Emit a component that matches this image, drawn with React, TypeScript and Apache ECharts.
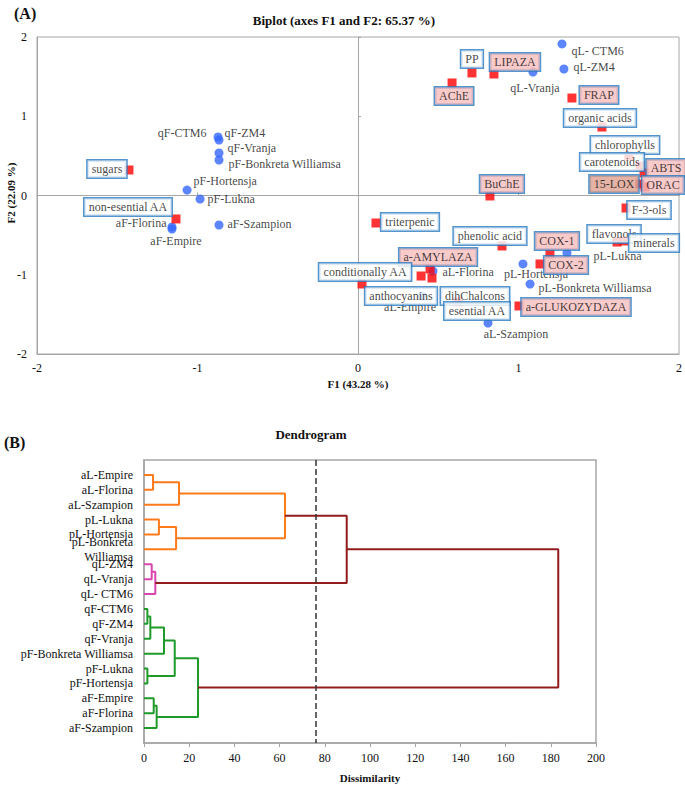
import React, { useEffect, useRef } from "react";
import * as echarts from "echarts";

// ---------- Biplot data ----------
const obsNames = [
  "qL- CTM6", "qL-ZM4", "qL-Vranja",
  "qF-CTM6", "qF-ZM4", "qF-Vranja",
  "pF-Bonkreta Williamsa", "pF-Hortensja", "pF-Lukna",
  "aF-Florina", "aF-Empire", "aF-Szampion",
  "aL-Florina", "aL-Empire", "aL-Szampion",
  "pL-Hortensja", "pL-Bonkreta Williamsa", "pL-Lukna",
];
const obsX = [1.271, 1.283, 1.09, -0.872, -0.866, -0.866, -0.866, -1.065, -0.984, -1.159, -1.159, -0.866, 0.467, 0.399, 0.81, 1.028, 1.072, 1.302];
const obsY = [1.912, 1.596, 1.558, 0.738, 0.7, 0.536, 0.448, 0.069, -0.044, -0.397, -0.423, -0.372, -0.953, -1.268, -1.609, -0.864, -1.117, -0.726];

const varNames = [
  "PP", "LIPAZA", "AChE", "FRAP", "organic acids", "chlorophylls", "carotenoids",
  "ABTS", "15-LOX", "ORAC", "BuChE", "F-3-ols", "flavonols", "minerals",
  "COX-1", "COX-2", "phenolic acid", "triterpenic", "a-AMYLAZA", "conditionally AA",
  "anthocyanins", "dihChalcons", "esential AA", "a-GLUKOZYDAZA", "sugars", "non-esential AA",
];
const varX = [0.71, 0.847, 0.586, 1.333, 1.52, 1.688, 1.757, 1.782, 1.757, 1.788, 0.822, 1.67, 1.614, 1.657, 1.196, 1.134, 0.897, 0.112, 0.449, 0.393, 0.025, 0.461, 0.623, 1.003, -1.427, -1.134];
const varY = [1.546, 1.533, 1.42, 1.23, 0.864, 0.498, 0.372, 0.284, 0.145, 0.107, -0.006, -0.158, -0.587, -0.574, -0.738, -0.864, -0.637, -0.347, -0.927, -1.016, -1.117, -1.041, -1.344, -1.394, 0.322, -0.296];

// ---------- Dendrogram data ----------
const leafNames = [
  "aL-Empire", "aL-Florina", "aL-Szampion", "pL-Lukna", "pL-Hortensja", "pL-Bonkreta Williamsa",
  "qL-ZM4", "qL-Vranja", "qL- CTM6", "qF-CTM6", "qF-ZM4", "qF-Vranja",
  "pF-Bonkreta Williamsa", "pF-Lukna", "pF-Hortensja", "aF-Empire", "aF-Florina", "aF-Szampion",
];
// [child A, child B, dissimilarity]; leaves 0..17, merges 18..
const merges: [number, number, number][] = [
  [0, 1, 4.0], [18, 2, 15.5], [3, 4, 6.6], [20, 5, 14.2], [19, 21, 62.4],
  [6, 7, 3.4], [23, 8, 5.0], [22, 24, 89.7],
  [9, 10, 1.5], [26, 11, 2.8], [27, 12, 8.85], [13, 14, 1.5], [28, 29, 13.6],
  [15, 16, 4.3], [31, 17, 5.6], [30, 32, 23.9], [25, 33, 183.3],
];
const leafCluster = [0, 0, 0, 0, 0, 0, 1, 1, 1, 2, 2, 2, 2, 2, 2, 2, 2, 2];
const cutHeight = 76;

// ---------- layout / style (not data) ----------
const FONT = "Liberation Serif";
const GRAY = "#A6A6A6";
const BOX_BORDER = "#2B7BC0";
const clusterColors = ["#FF7A1A", "#D946AD", "#1F9A2A"];
const aboveCutColor = "#921C1C";

// obs label: [position, dx, dy]
const obsLabelLayout: [string, number, number][] = [
  ["right", 0, 7], ["right", 0, -2], ["bottom", 2, 0],
  ["left", -2, -4], ["right", -4, -7], ["right", -1, -5],
  ["right", 0, 4], ["right", -3, -9], ["right", -2, 0],
  ["left", 4, -4], ["bottom", 4, -4], ["right", -1, -1],
  ["right", 0, 1], ["bottom", -12, -4], ["bottom", 28, -5],
  ["bottom", 13, -5], ["right", -1, 4], ["right", 17, 3],
];
// var box center offsets relative to square
const varBoxOffset: [number, number][] = [
  [0, -14], [21, -12], [2, 13], [27, -3], [-2, -9], [-4, -11], [-28, -4],
  [22, -5], [-26, 0], [18, -2], [12, -12], [23, 2], [-3, -8], [30, 2],
  [7, -13], [26, 1], [-12, -10], [34, -1], [8, -12], [-56, -4],
  [39, 12], [43, 18], [19, 9], [57, 1], [-22, -1], [-48, -12],
];
const varBoxKind = [
  "w", "p", "p", "p", "w", "w", "w", "p", "l", "p", "p", "w", "w", "w",
  "p", "p", "w", "w", "p", "w", "w", "w", "w", "p", "w", "w",
];
const boxFill: Record<string, string> = { w: "#FFFFFF", p: "#F7BDBD", l: "#DDA08F" };

export default function App() {
  const ref = useRef<HTMLDivElement>(null);
  useEffect(() => {
    document.body.style.margin = "0";
    const chart = echarts.init(ref.current!, undefined, { renderer: "svg" });

    const obsData = obsNames.map((n, i) => ({
      name: n,
      value: [obsX[i], obsY[i]],
      label: {
        show: true,
        formatter: n,
        position: obsLabelLayout[i][0],
        distance: 5,
        offset: [obsLabelLayout[i][1], obsLabelLayout[i][2]],
        color: "#111",
        fontFamily: FONT,
        fontSize: 12,
      },
    }));

    const varData = varNames.map((n, i) => ({
      name: n,
      value: [varX[i], varY[i]],
      label: {
        show: true,
        formatter: n,
        position: "inside",
        offset: varBoxOffset[i],
        align: "center",
        verticalAlign: "middle",
        color: "#111",
        fontFamily: FONT,
        fontSize: 12,
        lineHeight: 14,
        padding: [2, 4, 1, 4],
        backgroundColor: boxFill[varBoxKind[i]],
        borderColor: BOX_BORDER,
        borderWidth: 1.5,
      },
    }));

    // dendrogram geometry
    const nLeaves = leafNames.length;
    const nodeY: number[] = leafNames.map((_, i) => i + 1);
    const nodeH: number[] = leafNames.map(() => 0);
    const nodeCl: number[] = leafCluster.slice();
    const dendroSeries: any[] = [];
    merges.forEach(([a, b, h], k) => {
      const id = nLeaves + k;
      nodeY[id] = (nodeY[a] + nodeY[b]) / 2;
      nodeH[id] = h;
      nodeCl[id] = nodeCl[a];
      const color = h < cutHeight ? clusterColors[nodeCl[a]] : aboveCutColor;
      dendroSeries.push({
        type: "line",
        xAxisIndex: 2,
        yAxisIndex: 2,
        symbol: "none",
        silent: true,
        lineStyle: { color, width: 2 },
        data: [
          [nodeH[a], nodeY[a]],
          [h, nodeY[a]],
          [h, nodeY[b]],
          [nodeH[b], nodeY[b]],
        ],
      });
    });
    dendroSeries[0].markLine = {
      silent: true,
      symbol: "none",
      label: { show: false },
      lineStyle: { color: "#333", type: "dashed", width: 1.5 },
      data: [{ xAxis: cutHeight }],
    };

    const leafDisplay = leafNames.map((n, i) =>
      i === 5 ? n.replace(" ", "\n") : n
    );

    const tickLabel = { color: "#111", fontFamily: FONT, fontSize: 12 };

    chart.setOption({
      animation: false,
      textStyle: { fontFamily: FONT },
      grid: [
        { left: 37, top: 37, width: 642, height: 317, show: true, borderColor: GRAY, borderWidth: 1 },
        { left: 144, top: 460, width: 452, height: 283, show: true, borderColor: GRAY, borderWidth: 1.5 },
      ],
      xAxis: [
        {
          gridIndex: 0, type: "value", min: -2, max: 2, interval: 1, position: "bottom",
          axisLine: { onZero: false, lineStyle: { color: GRAY } },
          axisTick: { show: false }, splitLine: { show: false },
          axisLabel: { ...tickLabel, margin: 8 },
        },
        {
          gridIndex: 0, type: "value", min: -2, max: 2, interval: 1, position: "top",
          axisLine: { onZero: true, onZeroAxisIndex: 0, lineStyle: { color: GRAY } },
          axisTick: { show: true, length: 3, lineStyle: { color: GRAY } },
          splitLine: { show: false }, axisLabel: { show: false },
        },
        {
          gridIndex: 1, type: "value", min: 0, max: 200, interval: 20, position: "bottom",
          axisLine: { onZero: false, lineStyle: { color: GRAY, width: 1.5 } },
          axisTick: { show: true, length: 4, lineStyle: { color: GRAY } },
          splitLine: { show: false },
          axisLabel: { ...tickLabel, margin: 9 },
        },
      ],
      yAxis: [
        {
          gridIndex: 0, type: "value", min: -2, max: 2, interval: 1, position: "left",
          axisLine: { onZero: false, lineStyle: { color: GRAY } },
          axisTick: { show: false }, splitLine: { show: false },
          axisLabel: { ...tickLabel, margin: 10 },
        },
        {
          gridIndex: 0, type: "value", min: -2, max: 2, interval: 1, position: "right",
          axisLine: { onZero: true, onZeroAxisIndex: 0, lineStyle: { color: GRAY } },
          axisTick: { show: true, length: 3, lineStyle: { color: GRAY } },
          splitLine: { show: false }, axisLabel: { show: false },
        },
        {
          gridIndex: 1, type: "value", min: 0, max: 19, interval: 1, inverse: true, position: "left",
          axisLine: { onZero: false, lineStyle: { color: GRAY, width: 1.5 } },
          axisTick: { show: false }, splitLine: { show: false },
          axisLabel: {
            ...tickLabel,
            margin: 11,
            lineHeight: 15,
            formatter: (v: number) => (v >= 1 && v <= nLeaves ? leafDisplay[v - 1] : ""),
          },
        },
      ],
      graphic: [
        { type: "text", left: 14, top: 5, style: { text: "(A)", font: `bold 16px '${FONT}'`, fill: "#111" } },
        { type: "text", x: 344, y: 20, style: { text: "Biplot (axes F1 and F2: 65.37 %)", font: `bold 13px '${FONT}'`, fill: "#111", textAlign: "center", textVerticalAlign: "middle" } },
        { type: "text", x: 358, y: 384, style: { text: "F1 (43.28 %)", font: `bold 11px '${FONT}'`, fill: "#111", textAlign: "center", textVerticalAlign: "middle" } },
        { type: "text", x: 11, y: 193, rotation: Math.PI / 2, style: { text: "F2 (22.09 %)", font: `bold 11px '${FONT}'`, fill: "#111", textAlign: "center", textVerticalAlign: "middle" } },
        { type: "text", left: 4, top: 434, style: { text: "(B)", font: `bold 16px '${FONT}'`, fill: "#111" } },
        { type: "text", x: 311, y: 434, style: { text: "Dendrogram", font: `bold 13px '${FONT}'`, fill: "#111", textAlign: "center", textVerticalAlign: "middle" } },
        { type: "text", x: 370, y: 778, style: { text: "Dissimilarity", font: `bold 11px '${FONT}'`, fill: "#111", textAlign: "center", textVerticalAlign: "middle" } },
      ],
      series: [
        {
          type: "scatter", xAxisIndex: 0, yAxisIndex: 0, symbol: "circle", symbolSize: 9,
          itemStyle: { color: "#3366FF" }, data: obsData, silent: true,
        },
        {
          type: "scatter", xAxisIndex: 0, yAxisIndex: 0, symbol: "rect", symbolSize: 9,
          itemStyle: { color: "#FF0000" }, data: varData, silent: true,
        },
        ...dendroSeries,
      ],
    });
    return () => chart.dispose();
  }, []);
  return <div ref={ref} style={{ position: "absolute", left: 0, top: 0, width: 685, height: 785 }} />;
}
